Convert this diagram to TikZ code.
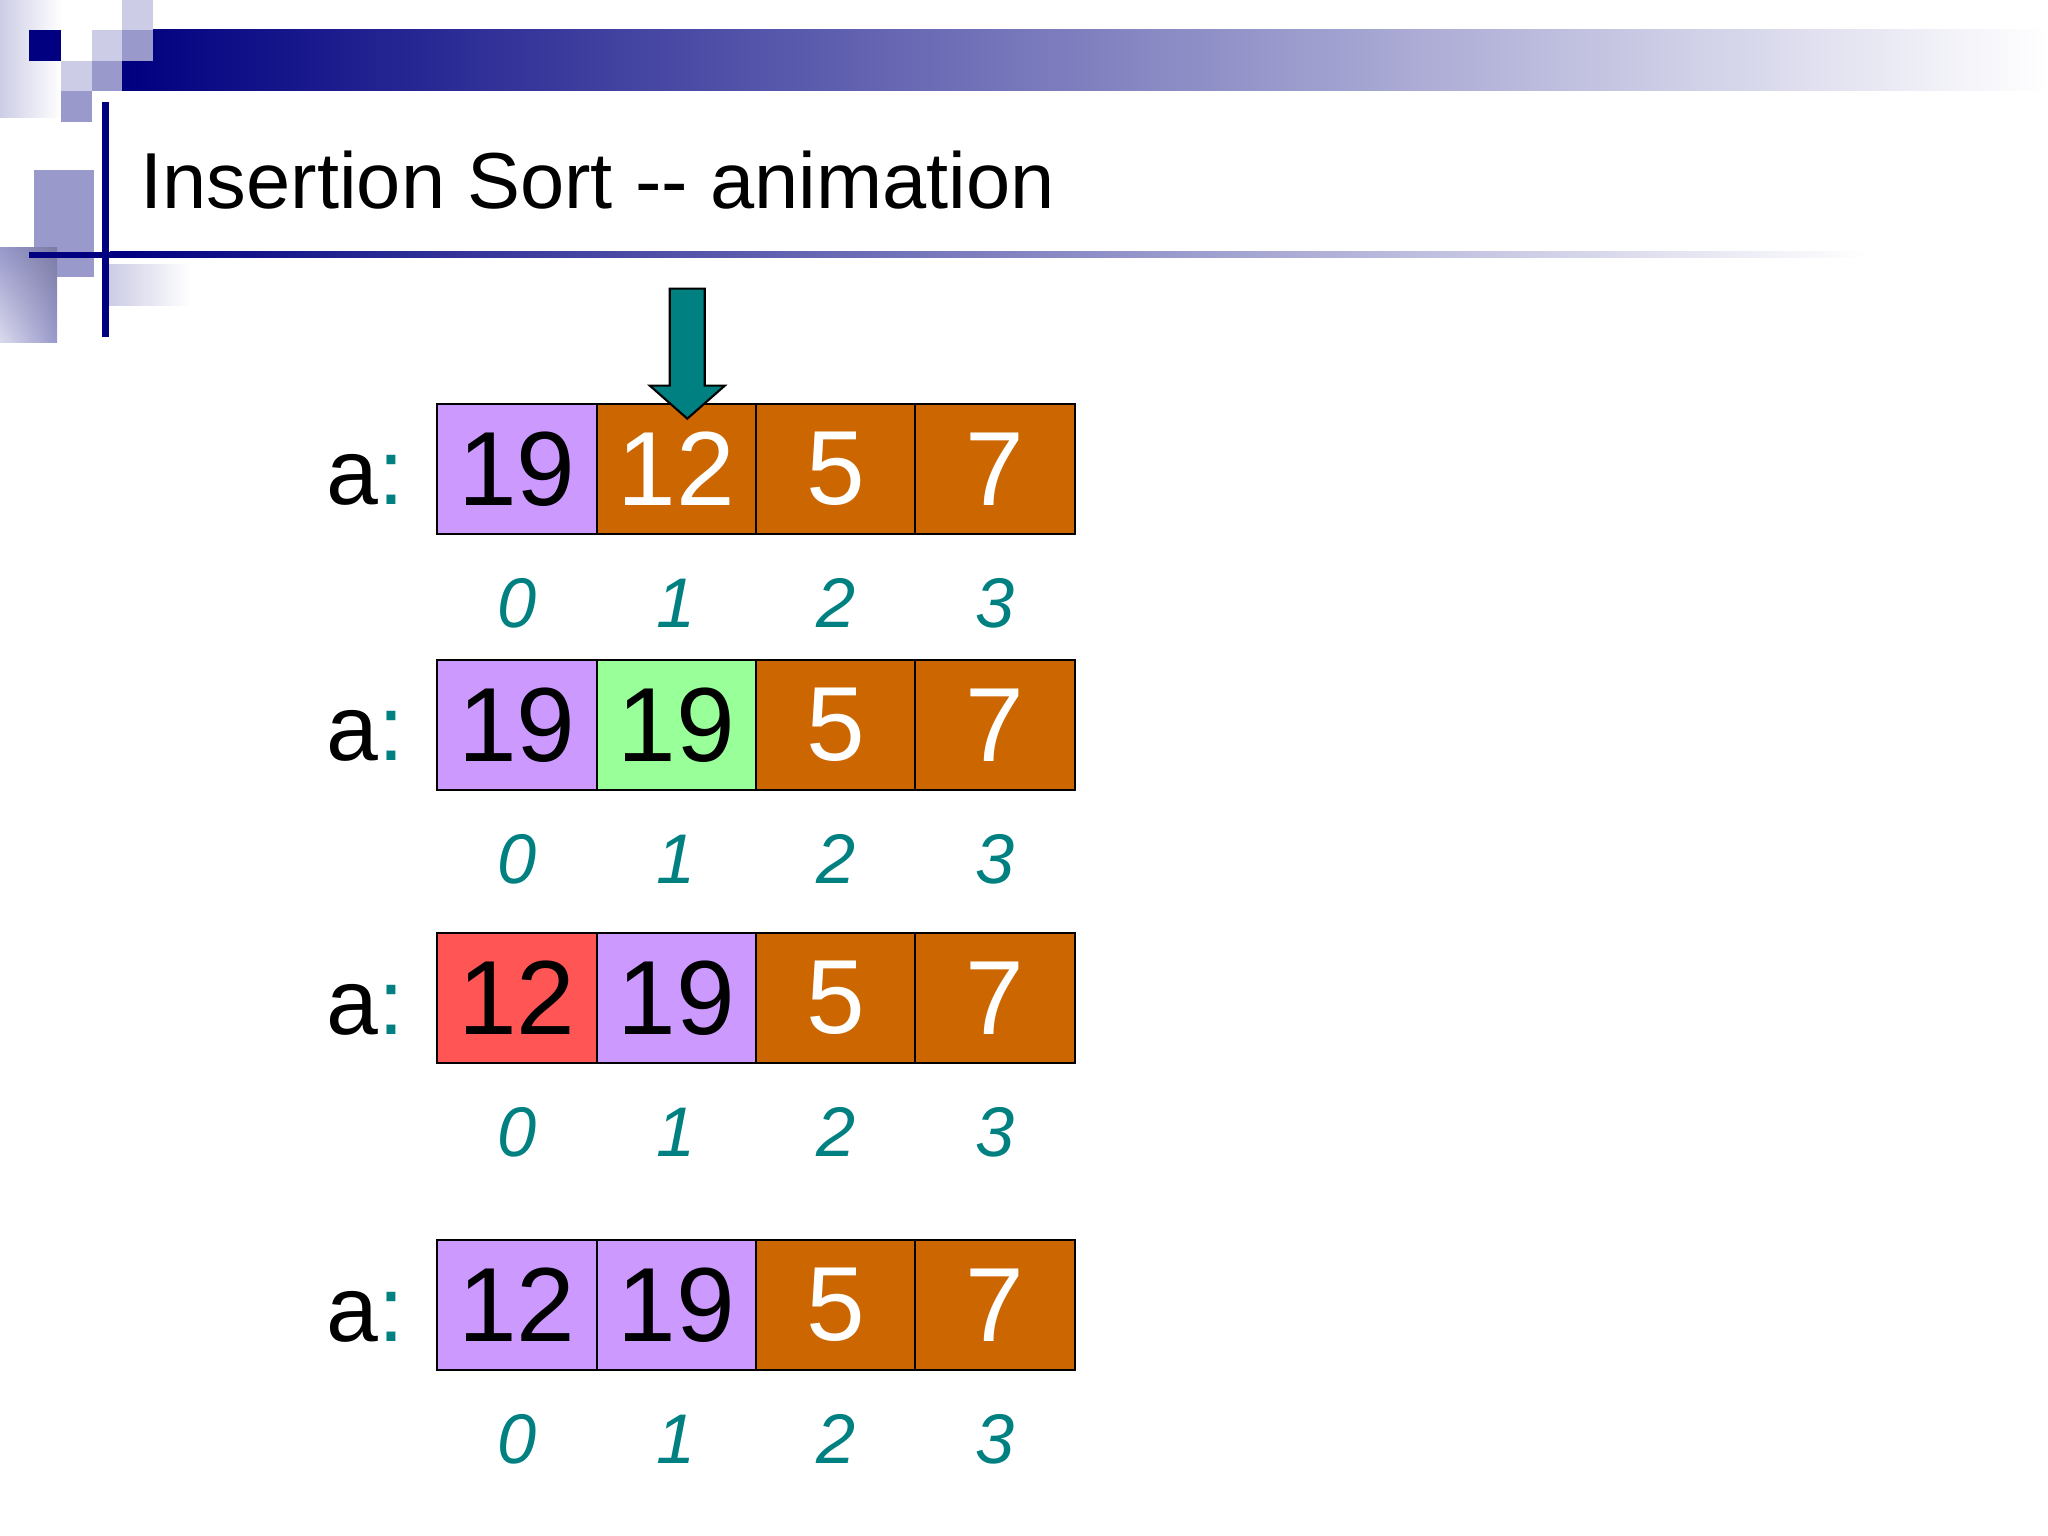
\documentclass[tikz,border=0pt]{standalone}
\usepackage{fontspec}
\setmainfont{Liberation Sans}
\usetikzlibrary{positioning}
\usetikzlibrary{shadings}
\definecolor{navy}{HTML}{000080}
\definecolor{lavlight}{HTML}{CCCCE6}
\definecolor{lavmid}{HTML}{9999CC}
\definecolor{lilac}{HTML}{CC99FF}
\definecolor{rust}{HTML}{CC6600}
\definecolor{mint}{HTML}{99FF99}
\definecolor{salmon}{HTML}{FF5555}
\tikzset{cell/.style = {draw, line width=0.6pt, minimum width=1.593cm, minimum height=1.306cm,
                        inner sep=0, font=\fontsize{30}{31}\selectfont}}
\tikzset{lilaccell/.style = {cell, fill=lilac}}
\tikzset{mintcell/.style = {cell, fill=mint}}
\tikzset{salmoncell/.style = {cell, fill=salmon}}
\tikzset{rustcell/.style = {cell, fill=rust, text=white}}
\tikzset{idx/.style = {text=teal, inner sep=0, font=\fontsize{20}{21}\selectfont\itshape}}
\tikzset{alabel/.style = {inner sep=0, anchor=base east, font=\fontsize{26.5}{28}\selectfont}}

\begin{document}
\begin{tikzpicture}[on grid]
    \useasboundingbox (0, 0) rectangle (20.48, -15.36);

    % slide decoration
    \shade [left color=lavlight, right color=white] (0, 0) rectangle (0.61, -1.18);
    \shade [left color=navy, right color=white] (1.22, -0.30) rectangle (20.48, -0.91);
    \fill [navy] (0.29, -0.30) rectangle (0.61, -0.61);
    \fill [lavlight] (0.92, -0.30) rectangle (1.22, -0.61);
    \fill [lavlight] (1.22, 0) rectangle (1.53, -0.30);
    \fill [lavmid] (1.22, -0.30) rectangle (1.53, -0.61);
    \fill [lavlight] (0.61, -0.61) rectangle (0.92, -0.91);
    \fill [lavmid] (0.92, -0.61) rectangle (1.22, -0.91);
    \fill [lavmid] (0.61, -0.91) rectangle (0.92, -1.22);
    \fill [lavmid] (0.34, -1.70) rectangle (0.94, -2.77);
    \shade [upper right=lavmid!80!black, lower right=lavmid, upper left=lavmid, lower left=lavlight!70]
        (0, -2.48) rectangle (0.57, -3.43);
    \shade [left color=lavlight, right color=white] (1.09, -2.65) rectangle (1.90, -3.06);
    \fill [navy] (0.29, -2.52) rectangle (1.10, -2.58);
    \shade [left color=navy, right color=white] (1.10, -2.52) rectangle (18.67, -2.58);
    \fill [navy] (1.02, -1.02) rectangle (1.09, -3.37);

    \node [anchor=base west, inner sep=0, font=\fontsize{22.6}{24}\selectfont] (title) at (1.40, -2.09)
        {Insertion Sort -{}- animation};

    % array rows
    \foreach \r/\y/\sa/\va/\sb/\vb in {1/-4.69/lilaccell/19/rustcell/12,
                                      2/-7.25/lilaccell/19/mintcell/19,
                                      3/-9.98/salmoncell/12/lilaccell/19,
                                      4/-13.05/lilaccell/12/lilaccell/19} {
      \node [\sa] (c\r0) at (5.17, \y) {\va};
      \node [\sb, right=1.593cm of c\r0] (c\r1) {\vb};
      \node [rustcell, right=1.593cm of c\r1] (c\r2) {5};
      \node [rustcell, right=1.593cm of c\r2] (c\r3) {7};
      \node [alabel] (a\r) at ([xshift=-0.31cm, yshift=-0.36cm] c\r0.west) {a\textcolor{teal}{:}};
      \foreach \i in {0, ..., 3}
        \node [idx, below=1.34cm of c\r\i] (i\r\i) {\i};
    }

    % pointer
    \coordinate (tip) at ([xshift=0.11cm, yshift=-0.16cm] c11.north);
    \draw [fill=teal, line width=0.6pt] (tip) -- ++(-0.375, 0.33) -- ++(0.2, 0) -- ++(0, 0.97)
        -- ++(0.35, 0) -- ++(0, -0.97) -- ++(0.2, 0) -- cycle;
  \end{tikzpicture}
\end{document}
